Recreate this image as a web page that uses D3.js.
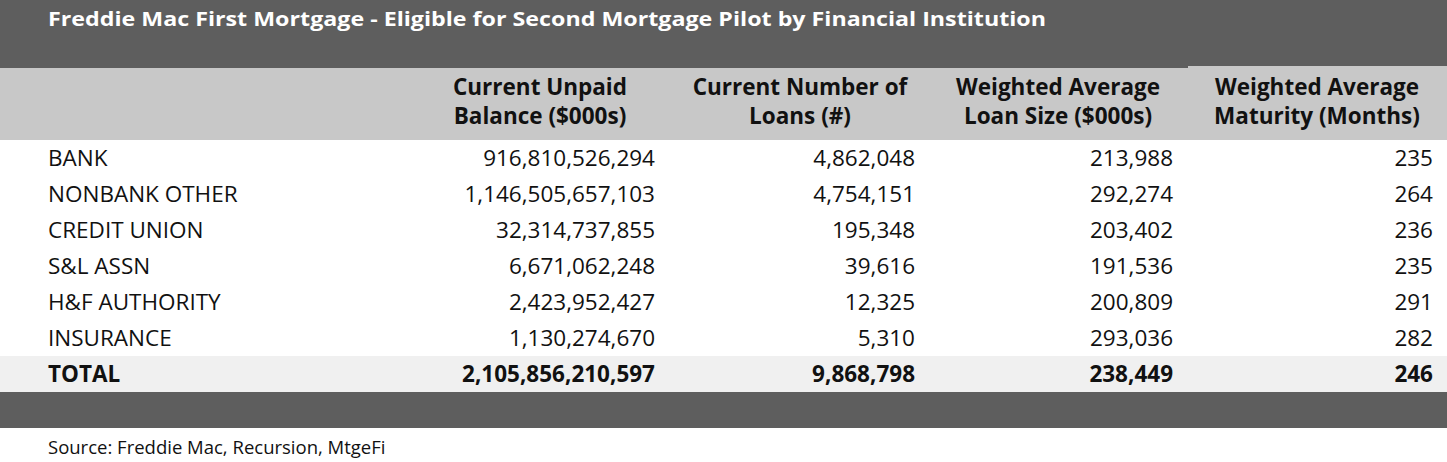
<!DOCTYPE html><html><head><meta charset="utf-8"><script src="https://cdn.jsdelivr.net/npm/d3@7"></script>
<style>body{margin:0;background:#fff}</style></head><body><svg id="c" width="1447" height="462"></svg>
<script>
const title="Freddie Mac First Mortgage - Eligible for Second Mortgage Pilot by Financial Institution";
const headers=[["Current Unpaid","Balance ($000s)"],["Current Number of","Loans (#)"],["Weighted Average","Loan Size ($000s)"],["Weighted Average","Maturity (Months)"]];
const categories=["BANK","NONBANK OTHER","CREDIT UNION","S&L ASSN","H&F AUTHORITY","INSURANCE"];
const balance=[916810526294,1146505657103,32314737855,6671062248,2423952427,1130274670];
const loans=[4862048,4754151,195348,39616,12325,5310];
const avgSize=[213988,292274,203402,191536,200809,293036];
const maturity=[235,264,236,235,291,282];
const total=["TOTAL",2105856210597,9868798,238449,246];
const source="Source: Freddie Mac, Recursion, MtgeFi";

const svg=d3.select("#c"),F="'Open Sans','Noto Sans',sans-serif",fmt=d3.format(",.0f");
const colRight=[655,915,1173,1433],colCenter=[540,800,1058,1317];
const rowsAll=categories.map((c,i)=>[c,balance[i],loans[i],avgSize[i],maturity[i]]);
const y=d3.scaleBand().domain(d3.range(7)).range([140,392]);
svg.append("rect").attr("x",0).attr("y",0).attr("width",1447).attr("height",68).attr("fill","#5e5e5e");
svg.append("rect").attr("x",0).attr("y",68).attr("width",1447).attr("height",72).attr("fill","#c8c8c8");
svg.append("rect").attr("x",1188).attr("y",66).attr("width",259).attr("height",4).attr("fill","#c8c8c8");
svg.append("rect").attr("x",0).attr("y",y(6)).attr("width",1447).attr("height",y.bandwidth()).attr("fill","#f0f0f0");
svg.append("rect").attr("x",0).attr("y",392).attr("width",1447).attr("height",36).attr("fill","#5e5e5e");
svg.append("text").attr("x",48).attr("y",26).attr("fill","#fff").attr("font-family",F).attr("font-weight","bold").attr("font-size",20).attr("textLength",998).attr("lengthAdjust","spacingAndGlyphs").text(title);
headers.forEach((h,j)=>h.forEach((t,k)=>svg.append("text").attr("x",colCenter[j]).attr("y",95+k*29).attr("text-anchor","middle").attr("font-family",F).attr("font-weight","bold").attr("font-size",22.5).attr("fill","#111").text(t)));
rowsAll.concat([total]).forEach((r,i)=>{
 const g=svg.append("g").attr("font-family",F).attr("font-size",22.5).attr("fill","#111").attr("font-weight",i==6?"bold":"normal");
 const yy=y(i)+y.bandwidth()/2+8;
 g.append("text").attr("x",48).attr("y",yy).text(r[0]);
 r.slice(1).forEach((v,j)=>g.append("text").attr("x",colRight[j]).attr("y",yy).attr("text-anchor","end").text(fmt(v)));
});
svg.append("text").attr("x",48).attr("y",454).attr("font-family",F).attr("font-size",18.5).attr("fill","#111").text(source);
</script></body></html>
